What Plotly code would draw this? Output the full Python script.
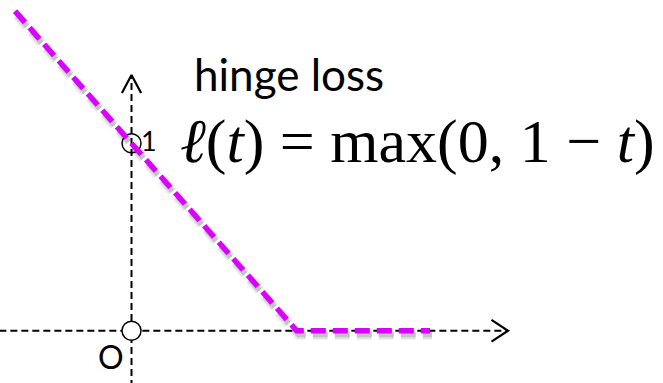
import plotly.graph_objects as go

# Hinge loss l(t) = max(0, 1 - t), sampled at its corner points
t_vals = [-0.705, 1.0, 1.807]
loss_vals = [1.705, 0.0, 0.0]

# Axis extents (data units) and arrow tips
x_axis_t = [-0.80, 2.279]
y_axis_v = [-0.30, 1.364]
arrow_w = 0.10   # arrowhead depth along the axis
arrow_h = 0.058  # arrowhead half-width

# Reference points marked with circles
marked_t = [0.0, 0.0]
marked_v = [0.0, 1.0]

X_RANGE = [-0.796, 3.217]
Y_RANGE = [-0.279, 1.7647]
W, H = 663, 383
px_x = (X_RANGE[1] - X_RANGE[0]) / W
px_y = (Y_RANGE[1] - Y_RANGE[0]) / H

MAGENTA = "rgb(218,0,255)"
fig = go.Figure()

# dashed coordinate axes
fig.add_trace(go.Scatter(x=x_axis_t, y=[0, 0], mode="lines",
                         line=dict(color="black", width=2, dash="7px,4px")))
fig.add_trace(go.Scatter(x=[0, 0], y=y_axis_v, mode="lines",
                         line=dict(color="black", width=2, dash="7px,4px")))

# open arrowheads
xt = x_axis_t[1]
fig.add_trace(go.Scatter(x=[xt - arrow_w, xt, xt - arrow_w],
                         y=[arrow_h, 0, -arrow_h], mode="lines",
                         line=dict(color="black", width=2.2)))
yt = y_axis_v[1]
fig.add_trace(go.Scatter(x=[-arrow_h, 0, arrow_h],
                         y=[yt - arrow_w * 0.96, yt, yt - arrow_w * 0.96], mode="lines",
                         line=dict(color="black", width=2.2)))

# circles at the origin and at (0, 1)
fig.add_trace(go.Scatter(x=marked_t, y=marked_v, mode="markers",
                         marker=dict(size=19, color=["white", "rgba(0,0,0,0)"],
                                     line=dict(color="black", width=1.5))))

# soft drop shadow under the loss curve
for w, a in [(11, 0.05), (8, 0.08), (5, 0.12)]:
    fig.add_trace(go.Scatter(x=[t + 2 * px_x for t in t_vals],
                             y=[v - 4 * px_y for v in loss_vals], mode="lines",
                             line=dict(color=f"rgba(0,0,0,{a})", width=w, dash="15px,7px")))

# hinge loss curve
fig.add_trace(go.Scatter(x=t_vals, y=loss_vals, mode="lines",
                         line=dict(color=MAGENTA, width=5.5, dash="15px,7px")))

fig.add_annotation(x=(192 - 131.5) * px_x, y=(330.7 - 74) * px_y,
                   xref="x", yref="y", text="hinge loss", showarrow=False,
                   xanchor="left", yanchor="middle",
                   font=dict(family="Lato", size=44, color="black"))
fig.add_annotation(x=(178 - 131.5) * px_x, y=(330.7 - 141) * px_y,
                   xref="x", yref="y",
                   text="<i>ℓ</i>(<i>t</i>) = max(0, 1 − <i>t</i>)", showarrow=False,
                   xanchor="left", yanchor="middle",
                   font=dict(family="Liberation Serif", size=62, color="black"))
fig.add_annotation(x=(149 - 131.5) * px_x, y=(330.7 - 140) * px_y,
                   xref="x", yref="y", text="1", showarrow=False,
                   xanchor="center", yanchor="middle",
                   font=dict(family="Lato", size=27, color="black"))
fig.add_annotation(x=(111 - 131.5) * px_x, y=(330.7 - 356) * px_y,
                   xref="x", yref="y", text="O", showarrow=False,
                   xanchor="center", yanchor="middle",
                   font=dict(family="Lato", size=32, color="black"))

fig.update_layout(
    width=W, height=H, margin=dict(l=0, r=0, t=0, b=0),
    paper_bgcolor="white", plot_bgcolor="white", showlegend=False,
    xaxis=dict(range=X_RANGE, visible=False, fixedrange=True),
    yaxis=dict(range=Y_RANGE, visible=False, fixedrange=True),
)
fig.write_html("out.html")
